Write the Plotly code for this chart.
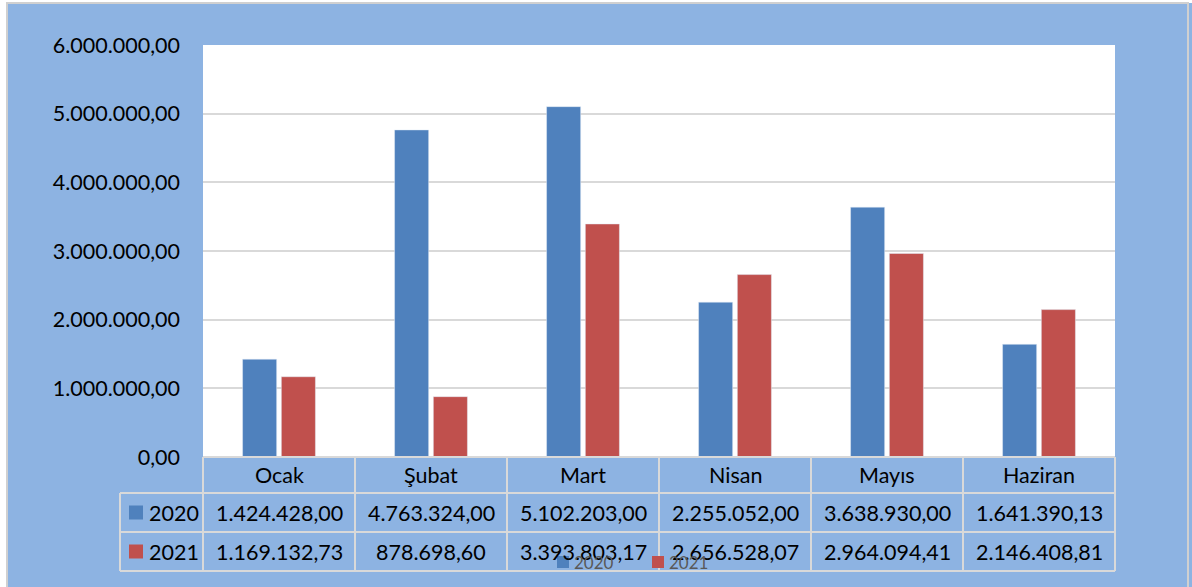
import plotly.graph_objects as go

# ---------------- data ----------------
months = ["Ocak", "Şubat", "Mart", "Nisan", "Mayıs", "Haziran"]
sales_2020 = [1424428.00, 4763324.00, 5102203.00, 2255052.00, 3638930.00, 1641390.13]
sales_2021 = [1169132.73, 878698.60, 3393803.17, 2656528.07, 2964094.41, 2146408.81]
series_names = ["2020", "2021"]
y_ticks = [0, 1000000, 2000000, 3000000, 4000000, 5000000, 6000000]

# ---------------- style ----------------
W, H = 1192, 587
L, R, T, B = 203, 1115, 45, 457          # plot area in pixels
BG = "#8DB3E2"
BLUE = "#4F81BD"
RED = "#C0504D"
GRID = "#D9D9D9"
FONT = "Lato, 'Open Sans', sans-serif"
FS = 21.5


def px(x):
    return (x - L) / (R - L)


def py(y):
    return (B - y) / (B - T)


def tr(v):
    # turkish number format 1.234.567,89
    s = f"{v:,.2f}"
    return s.replace(",", "X").replace(".", ",").replace("X", ".")


fig = go.Figure()
fig.add_trace(go.Bar(x=months, y=sales_2020, name=series_names[0], marker_color=BLUE))
fig.add_trace(go.Bar(x=months, y=sales_2021, name=series_names[1], marker_color=RED))

shapes = []
annotations = []

# white strips outside the chart frame + frame line
shapes.append(dict(type="rect", xref="paper", yref="paper", layer="below",
                   x0=px(-5), x1=px(7), y0=py(600), y1=py(-5),
                   fillcolor="white", line=dict(width=0)))
shapes.append(dict(type="rect", xref="paper", yref="paper", layer="below",
                   x0=px(-5), x1=px(1200), y0=py(3), y1=py(-5),
                   fillcolor="white", line=dict(width=0)))
shapes.append(dict(type="rect", xref="paper", yref="paper", layer="below",
                   x0=px(7), x1=px(1188), y0=py(620), y1=py(3),
                   fillcolor="rgba(0,0,0,0)", line=dict(color="#D0D0D0", width=2)))

# data table below the plot
row_y = [457, 493, 532, 571]
n = len(months)
line = dict(color=GRID, width=2)
# horizontal lines
shapes.append(dict(type="line", xref="paper", yref="paper", x0=0, x1=1,
                   y0=py(row_y[0]), y1=py(row_y[0]), line=line))
for yy in row_y[1:]:
    shapes.append(dict(type="line", xref="paper", yref="paper", x0=px(120), x1=1,
                       y0=py(yy), y1=py(yy), line=line))
# vertical lines
for i in range(n + 1):
    shapes.append(dict(type="line", xref="paper", yref="paper", x0=i / n, x1=i / n,
                       y0=py(row_y[3]), y1=py(row_y[0]), line=line))
shapes.append(dict(type="line", xref="paper", yref="paper", x0=px(120), x1=px(120),
                   y0=py(row_y[3]), y1=py(row_y[1]), line=line))

for i, m in enumerate(months):
    xc = (i + 0.5) / n
    annotations.append(dict(x=xc, y=py((row_y[0] + row_y[1]) / 2), text=m))
    annotations.append(dict(x=xc, y=py((row_y[1] + row_y[2]) / 2), text=tr(sales_2020[i])))
    annotations.append(dict(x=xc, y=py((row_y[2] + row_y[3]) / 2), text=tr(sales_2021[i])))

# legend keys inside the table
for k, (name, col) in enumerate(zip(series_names, [BLUE, RED])):
    yc = (row_y[k + 1] + row_y[k + 2]) / 2
    shapes.append(dict(type="rect", xref="paper", yref="paper",
                       x0=px(129), x1=px(143), y0=py(yc + 7), y1=py(yc - 7),
                       fillcolor=col, line=dict(width=0)))
    annotations.append(dict(x=px(147), y=py(yc), text=name, xanchor="left"))

for a in annotations:
    a.update(xref="paper", yref="paper", showarrow=False, yanchor="middle",
             font=dict(family=FONT, size=FS, color="#000000"))
    a.setdefault("xanchor", "center")

# chart legend (bottom, overlapping the table as in the original)
leg_x = [557, 652]
leg_y = 562
for name, col, lx in zip(series_names, [BLUE, RED], leg_x):
    shapes.append(dict(type="rect", xref="paper", yref="paper",
                       x0=px(lx), x1=px(lx + 12), y0=py(leg_y + 6), y1=py(leg_y - 6),
                       fillcolor=col, line=dict(width=0)))
    annotations.append(dict(xref="paper", yref="paper", showarrow=False,
                            x=px(lx + 15), y=py(leg_y), text=name,
                            xanchor="left", yanchor="middle",
                            font=dict(family=FONT, size=17, color="#595959")))

fig.update_layout(
    width=W, height=H,
    margin=dict(l=L, r=W - R, t=T, b=H - B, pad=0),
    paper_bgcolor=BG,
    plot_bgcolor="white",
    separators=",.",
    barmode="group",
    bargap=0.49,
    bargroupgap=0.12,
    showlegend=False,
    font=dict(family=FONT, size=FS, color="#000000"),
    shapes=shapes,
    annotations=annotations,
)
fig.update_xaxes(showticklabels=False, showgrid=False, ticks="", showline=False)
fig.update_yaxes(range=[0, 6000000], tickvals=y_ticks, tickformat=",.2f",
                 showgrid=True, gridcolor=GRID, gridwidth=1.5, zeroline=False,
                 ticklabelstandoff=22, showline=False)

fig.write_html("out.html", config={"displayModeBar": False},
               post_script="document.body.style.margin='0px';")
